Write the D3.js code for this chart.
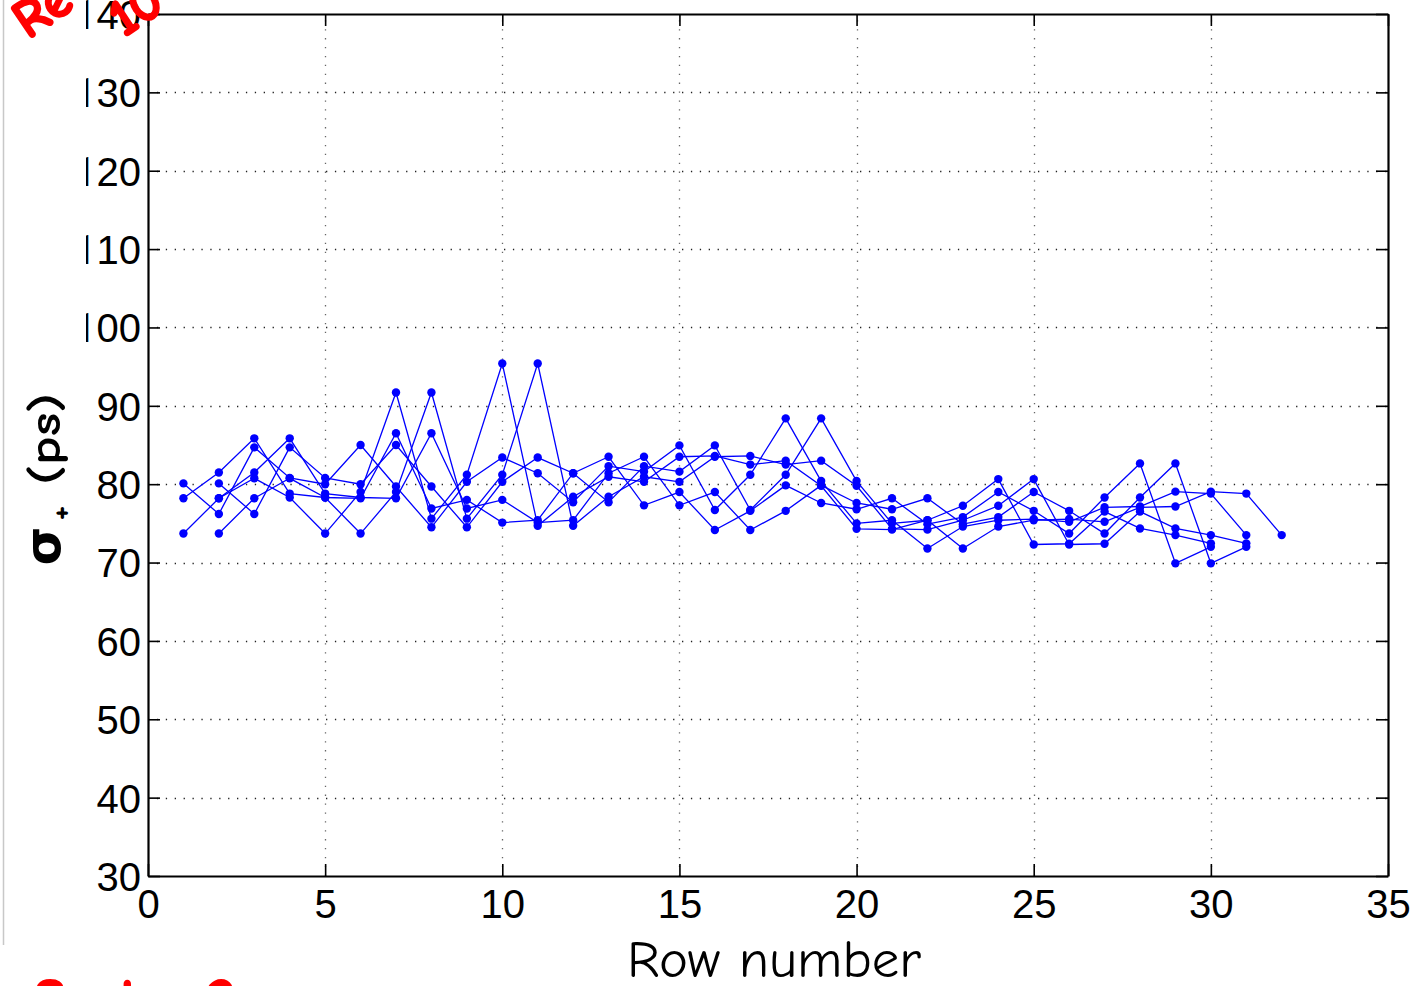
<!DOCTYPE html>
<html>
<head>
<meta charset="utf-8">
<script src="https://cdn.jsdelivr.net/npm/d3@7"></script>
<style>
  html, body { margin: 0; padding: 0; background: #fff; overflow: hidden; }
  svg { display: block; }
</style>
</head>
<body>
<svg id="chart" width="1414" height="986"></svg>
<script>
// Tick values on both axes
const xTicks = [0, 5, 10, 15, 20, 25, 30, 35];
const yTicks = [30, 40, 50, 60, 70, 80, 90, 100, 110, 120, 130, 140];

// Time resolution sigma+ (ps) per row, three strip series
const seriesA = [80.1, 76.2, 84.7, 80.8, 80.0, 85.0, 79.7, 74.5, 80.3, 83.4,
                 81.4, 77.7, 82.3, 81.6, 84.95, 76.7, 81.2, 88.4, 80.4, 75.0,
                 75.4, 71.8, 74.6, 75.4, 75.55, 75.2, 77.05, 77.15, 79.05, 78.8, 73.5];
const seriesB = [78.2, 81.5, 85.85, 78.8, 78.3, 78.2, 86.5, 76.9, 78.0, 75.1,
                 75.4, 81.4, 83.5, 77.3, 79.0, 74.15, 76.6, 79.85, 77.6, 76.8,
                 78.2, 74.9, 75.8, 79.0, 76.6, 73.7, 78.3, 82.65, 69.9, 72.0];
const seriesC = [73.7, 78.2, 80.75, 78.3, 73.7, 79.0, 91.7, 75.6, 81.2, 95.4,
                 74.7, 78.4, 80.95, 80.3, 83.5, 83.6, 82.5, 83.0, 79.8, 74.3,
                 74.2, 75.4, 77.25, 80.65, 72.3, 72.4, 76.5, 74.35, 73.5, 72.45];

// Each series is plotted for both staggered layers (row numbering starts at 1 and at 2)
const traces = [
  { values: seriesA, firstRow: 1 }, { values: seriesA, firstRow: 2 },
  { values: seriesB, firstRow: 1 }, { values: seriesB, firstRow: 2 },
  { values: seriesC, firstRow: 1 }, { values: seriesC, firstRow: 2 }
];

const svg = d3.select("#chart");
const W = 1414, H = 986;
const plot = { left: 148, right: 1388, top: 14, bottom: 876 };

svg.append("rect").attr("width", W).attr("height", H).attr("fill", "#fff");

// slide margin line on the far left
svg.append("line")
  .attr("x1", 3.5).attr("x2", 3.5).attr("y1", 0).attr("y2", 945)
  .attr("stroke", "#c8c8c8").attr("stroke-width", 1.5);

const x = d3.scaleLinear().domain([0, 35]).range([plot.left, plot.right]);
const y = d3.scaleLinear().domain([30, 140]).range([plot.bottom, plot.top]);

// dotted grid
const grid = svg.append("g").attr("stroke", "#222").attr("stroke-width", 1.3)
  .attr("stroke-dasharray", "1.3,7.6");
grid.selectAll("line.h").data(yTicks.slice(1, -1)).join("line")
  .attr("class", "h")
  .attr("x1", plot.left).attr("x2", plot.right)
  .attr("y1", d => Math.round(y(d)) + 0.5).attr("y2", d => Math.round(y(d)) + 0.5);
grid.selectAll("line.v").data(xTicks.slice(1, -1)).join("line")
  .attr("class", "v")
  .attr("stroke", "#666")
  .attr("y1", plot.bottom).attr("y2", plot.top)
  .attr("x1", d => Math.round(x(d)) + 0.5).attr("x2", d => Math.round(x(d)) + 0.5);

// data lines and markers
const line = d3.line().x(d => x(d[0])).y(d => y(d[1]));
const blue = "#0000ff";
const traceG = svg.append("g");
traces.forEach(t => {
  const pts = t.values.map((v, i) => [t.firstRow + i, v]);
  traceG.append("path").datum(pts)
    .attr("d", line).attr("fill", "none")
    .attr("stroke", blue).attr("stroke-width", 1.3);
  traceG.append("g").selectAll("circle").data(pts).join("circle")
    .attr("cx", d => x(d[0])).attr("cy", d => y(d[1])).attr("r", 4.2)
    .attr("fill", blue);
});

// tick labels on the left are cut at the figure edge
svg.append("clipPath").attr("id", "figEdge")
  .append("rect").attr("x", 86).attr("y", 0).attr("width", W - 86).attr("height", H);

const tickFont = "'Liberation Sans', Arial, Helvetica, sans-serif";

function styleAxis(g) {
  g.select(".domain").attr("stroke", "#000").attr("stroke-width", 2.2);
  g.selectAll(".tick line").attr("stroke", "#000").attr("stroke-width", 1.6);
  g.selectAll(".tick text").attr("font-family", tickFont).attr("font-size", 40)
    .attr("fill", "#000");
}

const axLeft = svg.append("g").attr("clip-path", "url(#figEdge)")
  .append("g").attr("transform", `translate(${plot.left},0)`)
  .call(d3.axisLeft(y).tickValues(yTicks).tickSizeInner(-12).tickSizeOuter(0).tickPadding(7));
styleAxis(axLeft);
axLeft.selectAll(".tick text").attr("dy", "0.36em");
// three-digit labels: the leading digit is set in a face whose "1" is a plain stroke
axLeft.selectAll(".tick text").each(function (d) {
  const s = String(d);
  if (s.length < 3) return;
  const t = d3.select(this).text("");
  t.append("tspan").attr("font-family", "Roboto, 'Noto Sans', sans-serif").text(s[0]);
  t.append("tspan").text(s.slice(1));
});

const axBottom = svg.append("g").attr("transform", `translate(0,${plot.bottom})`)
  .call(d3.axisBottom(x).tickValues(xTicks).tickSizeInner(-12).tickSizeOuter(0).tickPadding(14));
styleAxis(axBottom);
axBottom.selectAll(".tick text").attr("dy", "0.71em");

const axRight = svg.append("g").attr("transform", `translate(${plot.right},0)`)
  .call(d3.axisRight(y).tickValues(yTicks).tickSizeInner(-12).tickSizeOuter(0).tickFormat(""));
styleAxis(axRight);

const axTop = svg.append("g").attr("transform", `translate(0,${plot.top})`)
  .call(d3.axisTop(x).tickValues(xTicks).tickSizeInner(-12).tickSizeOuter(0).tickFormat(""));
styleAxis(axTop);

// axis titles
const handFont = "'Comic Sans MS', 'Comic Neue', 'DejaVu Sans', sans-serif";

svg.append("text")
  .attr("x", 774).attr("y", 977)
  .attr("text-anchor", "middle")
  .attr("font-family", handFont).attr("font-size", 52)
  .attr("textLength", 294).attr("lengthAdjust", "spacingAndGlyphs")
  .attr("fill", "#000")
  .text("Row number");

const yTitle = svg.append("g").attr("transform", "translate(60,480) rotate(-90)")
  .attr("font-family", handFont).attr("fill", "#000").attr("font-weight", "bold");
yTitle.append("text").attr("x", -66).attr("y", 0).attr("text-anchor", "middle")
  .attr("font-size", 50).text("σ");
yTitle.append("text").attr("x", -33).attr("y", 10).attr("text-anchor", "middle")
  .attr("font-size", 34).text("+");
yTitle.append("text").attr("x", 41).attr("y", 0).attr("text-anchor", "middle")
  .attr("font-size", 44).attr("textLength", 92).attr("lengthAdjust", "spacingAndGlyphs")
  .text("(ps)");

// red slide annotations
const red = "#ff0000";
svg.append("text").attr("transform", "translate(28,40) rotate(-34)")
  .attr("font-family", handFont).attr("font-size", 54).attr("font-weight", "bold")
  .attr("fill", red).attr("stroke", red).attr("stroke-width", 2).text("Re");
svg.append("text").attr("transform", "translate(124,38) rotate(-34)")
  .attr("font-family", handFont).attr("font-size", 54).attr("font-weight", "bold")
  .attr("fill", red).attr("stroke", red).attr("stroke-width", 2).text("10");
svg.append("text").attr("x", 34).attr("y", 1018)
  .attr("font-family", handFont).attr("font-size", 56).attr("font-weight", "bold")
  .attr("fill", red).attr("stroke", red).attr("stroke-width", 2).text("Sector 2");
</script>
</body>
</html>
